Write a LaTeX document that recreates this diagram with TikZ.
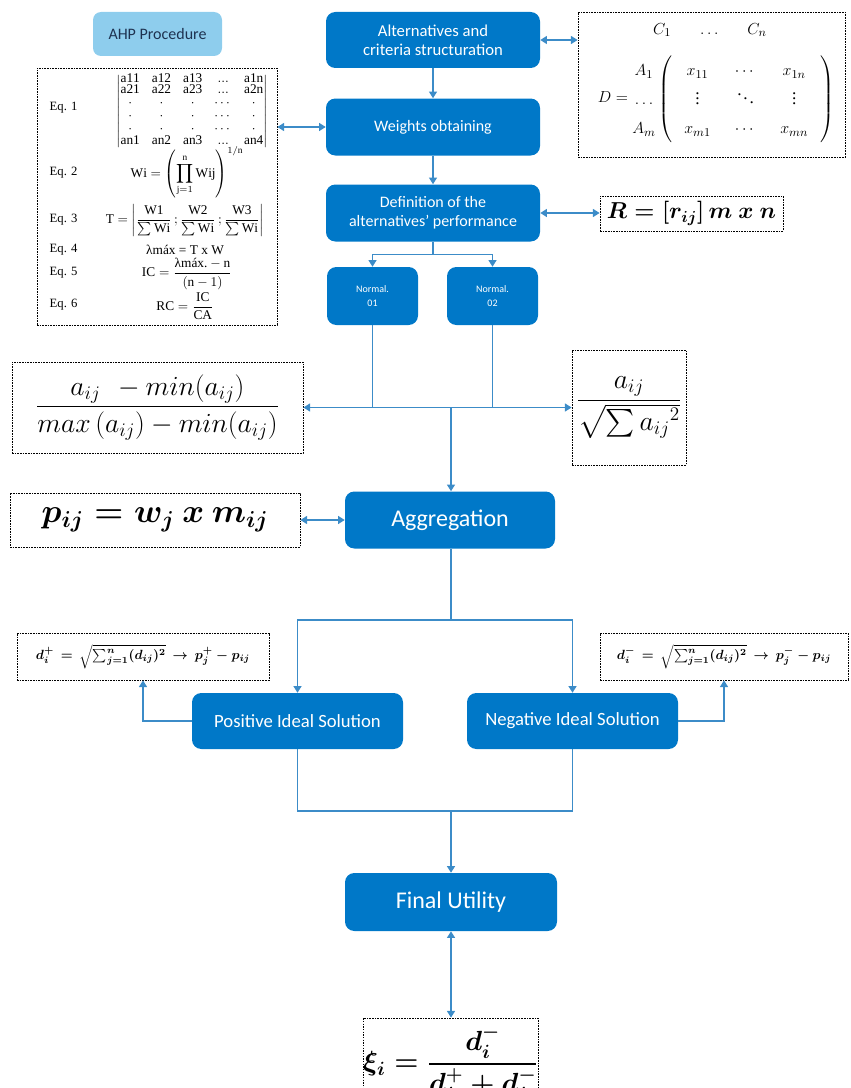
\documentclass[tikz,border=0pt]{standalone}
\usepackage{amsmath}
\usepackage{fontspec}
\setmainfont{Liberation Serif}
\setsansfont{Carlito}
\usetikzlibrary{arrows.meta}
\definecolor{boxblue}{RGB}{0,120,200}
\definecolor{lineblue}{RGB}{60,140,200}
\definecolor{ahpblue}{RGB}{142,205,237}
\definecolor{ahptext}{RGB}{30,50,80}
\begin{document}
\begin{tikzpicture}[
x=0.75pt,y=-0.75pt,
proc/.style={
	rectangle,rounded corners=7pt,fill=boxblue,text=white,
	align=center,inner sep=2pt},
eqbox/.style={
	rectangle,draw=black,line width=0.6pt,dash pattern=on 1.2pt off 0.8pt,
	fill=white,inner sep=0pt,align=center},
line/.style={draw=lineblue,line width=1pt},
link/.style={line,-{Triangle[length=5pt,width=6pt]}},
both/.style={line,{Triangle[length=5pt,width=6pt]}-{Triangle[length=5pt,width=6pt]}},
eqlbl/.style={font=\fontsize{9.5}{11}\selectfont,anchor=west},
ahpeq/.style={font=\fontsize{10}{12}\selectfont}
]
\path[use as bounding box,clip] (0,0) rectangle (850,1088);

\node[proc,fill=ahpblue,text=ahptext,minimum width=96.75pt,minimum height=33pt,
	rounded corners=6pt,font=\sffamily\fontsize{12}{14}\selectfont] (ahp) at (157.5,34) {AHP Procedure};
\node[eqbox,minimum width=180pt,minimum height=192.75pt] (ahpbox) at (157,196.5) {};
\node[eqlbl] (eq1) at (45,108) {Eq. 1};
\node[eqlbl] (eq2) at (45,173) {Eq. 2};
\node[eqlbl] (eq3) at (45,220) {Eq. 3};
\node[eqlbl] (eq4) at (45,250) {Eq. 4};
\node[eqlbl] (eq5) at (45,273) {Eq. 5};
\node[eqlbl] (eq6) at (45,305) {Eq. 6};
\node[ahpeq] (f1) at (192,111) {\renewcommand{\arraystretch}{0.8}\setlength{\arraycolsep}{4.5pt}%
	$\left|\begin{array}{@{}ccccc@{}}
	\mathrm{a11} & \mathrm{a12} & \mathrm{a13} & \mathrm{...} & \mathrm{a1n}\\[-1pt]
	\mathrm{a21} & \mathrm{a22} & \mathrm{a23} & \mathrm{...} & \mathrm{a2n}\\
	\cdot & \cdot & \cdot & \cdots & \cdot\\
	\cdot & \cdot & \cdot & \cdots & \cdot\\
	\cdot & \cdot & \cdot & \cdots & \cdot\\
	\mathrm{an1} & \mathrm{an2} & \mathrm{an3} & \mathrm{...} & \mathrm{an4}
	\end{array}\right|$};
\node[ahpeq] (f2) at (187,172) {$\displaystyle \mathrm{Wi} = \left(\prod_{\mathrm{j}=1}^{\mathrm{n}}\mathrm{Wij}\right)^{1/\mathrm{n}}$};
\node[ahpeq] (f3) at (185,220) {$\displaystyle \mathrm{T} = \left|\frac{\mathrm{W1}}{\sum\mathrm{Wi}}\,;\frac{\mathrm{W2}}{\sum\mathrm{Wi}}\,;\frac{\mathrm{W3}}{\sum\mathrm{Wi}}\right|$};
\node[ahpeq] (f4) at (185,250) {λmáx = T x W};
\node[ahpeq] (f5) at (187,274) {$\displaystyle \mathrm{IC} = \frac{\text{λmáx.} - \mathrm{n}}{(\mathrm{n}-1)}$};
\node[ahpeq] (f6) at (185,306) {$\displaystyle \mathrm{RC} = \frac{\mathrm{IC}}{\mathrm{CA}}$};

\node[proc,minimum width=160.5pt,minimum height=42pt,font=\sffamily\fontsize{12.5}{14.5}\selectfont] (alt) at (433,40) {Alternatives and\\criteria structuration};
\node[proc,minimum width=160.5pt,minimum height=42.75pt,font=\sffamily\fontsize{12}{14}\selectfont] (wgt) at (433,127) {Weights obtaining};
\node[proc,minimum width=160.5pt,minimum height=42.75pt,font=\sffamily\fontsize{12}{14}\selectfont] (def) at (433,213) {Definition of the\\alternatives’ performance};
\node[proc,minimum width=68.25pt,minimum height=43.5pt,font=\sffamily\fontsize{7.5}{10}\selectfont] (n1) at (372.5,296) {Normal.\\01};
\node[proc,minimum width=68.25pt,minimum height=43.5pt,font=\sffamily\fontsize{7.5}{10}\selectfont] (n2) at (492.5,296) {Normal.\\02};
\node[proc,minimum width=157.5pt,minimum height=42.75pt,font=\sffamily\fontsize{18}{20}\selectfont] (agg) at (450,520) {Aggregation};
\node[proc,minimum width=158.25pt,minimum height=42pt,font=\sffamily\fontsize{14}{16}\selectfont] (pos) at (297.5,721) {Positive Ideal Solution};
\node[proc,minimum width=158.25pt,minimum height=42pt,font=\sffamily\fontsize{14}{16}\selectfont] (neg) at (572.5,721) {Negative Ideal Solution};
\node[proc,minimum width=159pt,minimum height=43.5pt,font=\sffamily\fontsize{18}{20}\selectfont] (fin) at (451,902) {Final Utility};

\node[eqbox,minimum width=200.25pt,minimum height=108.75pt] (dmat) at (711.5,84.5) {};
\node[font=\fontsize{13}{15}\selectfont] (dhead) at (710,30) {$C_1 \quad\;\; \ldots \quad\;\; C_n$};
\node[font=\fontsize{13}{15}\selectfont] (dbody) at (716,99) {\renewcommand{\arraystretch}{1.45}%
	$D = \begin{array}{@{}c@{}} A_1\\ \ldots\\ A_m \end{array}
	\setlength{\arraycolsep}{9pt}\left(\begin{array}{ccc} x_{11} & \cdots & x_{1n}\\ \vdots & \ddots & \vdots\\ x_{m1} & \cdots & x_{mn}\end{array}\right)$};
\node[eqbox,minimum width=137.25pt,minimum height=26.25pt,font=\fontsize{18}{20}\selectfont\boldmath] (rbox) at (691.5,213.5) {$R = \left[r_{ij}\right] m\ x\ n$};
\node[eqbox,minimum width=218.25pt,minimum height=68.25pt,font=\fontsize{20}{24}\selectfont] (lnorm) at (157.5,407.5) {$\displaystyle \frac{a_{ij}\ \, - min(a_{ij})}{max\left(a_{ij}\right) - min(a_{ij})}$};
\node[eqbox,minimum width=85.5pt,minimum height=86.25pt,font=\fontsize{20}{24}\selectfont] (rnorm) at (629,407.5) {$\displaystyle \frac{a_{ij}}{\sqrt{\textstyle\sum {a_{ij}}^{2}}}$};
\node[eqbox,minimum width=217.5pt,minimum height=40.5pt,font=\fontsize{23}{27}\selectfont\boldmath] (pbox) at (155,520) {$p_{ij} = w_j\ x\ m_{ij}$};
\node[eqbox,minimum width=189pt,minimum height=35.25pt,font=\fontsize{10}{12}\selectfont\boldmath] (dpos) at (143,656.5) {$d_i^{+} \,=\, \sqrt{\sum_{j=1}^{n}(d_{ij})^2} \,\to\, p_j^{+} - p_{ij}$};
\node[eqbox,minimum width=186pt,minimum height=35.25pt,font=\fontsize{10}{12}\selectfont\boldmath] (dneg) at (724,656.5) {$d_i^{-} \,=\, \sqrt{\sum_{j=1}^{n}(d_{ij})^2} \,\to\, p_j^{-} - p_{ij}$};
\node[eqbox,minimum width=129.75pt,minimum height=67.5pt,font=\fontsize{21}{25}\selectfont\boldmath] (xi) at (450.5,1063) {$\displaystyle \xi_i = \frac{d_i^{-}}{d_i^{+} + d_i^{-}}$};

\coordinate (sp1) at (451,407.5);
\coordinate (sp2) at (451,620);
\coordinate (jn) at (451,811);

\draw[both] (alt.east) -- (alt.east -| dmat.west);
\draw[link] (alt) -- (wgt);
\draw[both] (ahpbox.east |- wgt.west) -- (wgt.west);
\draw[link] (wgt) -- (def);
\draw[both] (def.east) -- (def.east -| rbox.west);
\draw[link] (def.south) -- ++(0,13) -| (n1.north);
\draw[link] (def.south) -- ++(0,13) -| (n2.north);
\draw[line] (n1.south) -- (n1.south |- sp1);
\draw[line] (n2.south) -- (n2.south |- sp1);
\draw[link] (sp1) -- (lnorm.east);
\draw[link] (sp1) -- (rnorm.west);
\draw[link] (sp1) -- (sp1 |- agg.north);
\draw[both] (pbox.east) -- (agg.west);
\draw[line] (agg.south -| sp2) -- (sp2);
\draw[link] (sp2) -| (pos.north);
\draw[link] (sp2) -| (neg.north);
\draw[link] (pos.west) -| (dpos.south);
\draw[link] (neg.east) -| (dneg.south);
\draw[line] (pos.south) |- (jn) -| (neg.south);
\draw[link] (jn) -- (jn |- fin.north);
\draw[both] (jn |- fin.south) -- (jn |- xi.north);
\end{tikzpicture}
\end{document}
